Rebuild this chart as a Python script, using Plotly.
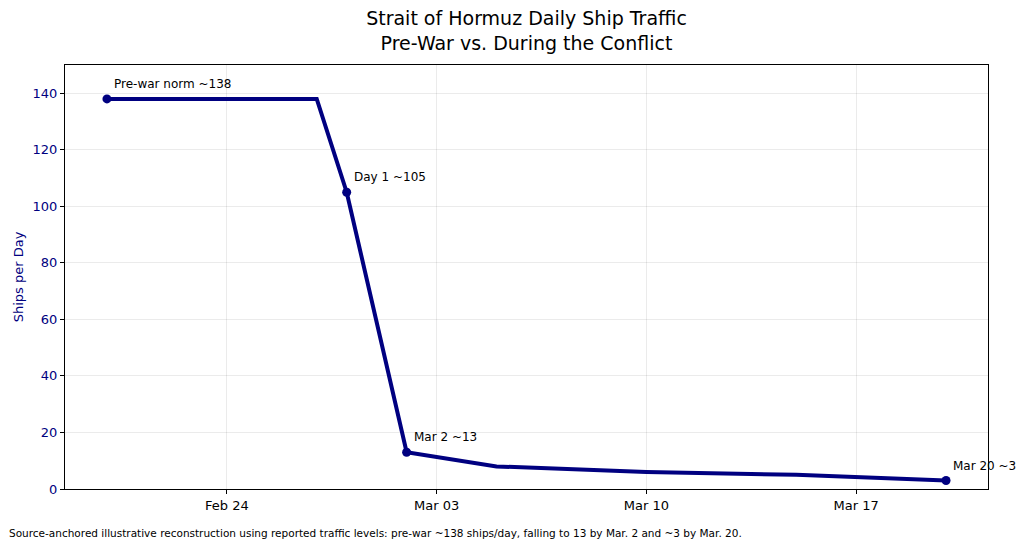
import plotly.graph_objects as go

dates = ["2026-02-20", "2026-02-27", "2026-02-28", "2026-03-02", "2026-03-05",
         "2026-03-10", "2026-03-15", "2026-03-20"]
ships = [138, 138, 105, 13, 8, 6, 5, 3]
marked_idx = [0, 2, 3, 7]
marked_labels = ["Pre-war norm ~138", "Day 1 ~105", "Mar 2 ~13", "Mar 20 ~3"]
tick_dates = ["2026-02-24", "2026-03-03", "2026-03-10", "2026-03-17"]
tick_text = ["Feb 24", "Mar 03", "Mar 10", "Mar 17"]

NAVY = "#000080"
FONT = "DejaVu Sans"

fig = go.Figure()
fig.add_trace(go.Scatter(x=dates, y=ships, mode="lines",
                         line=dict(color=NAVY, width=4), showlegend=False,
                         hoverinfo="skip"))
fig.add_trace(go.Scatter(x=[dates[i] for i in marked_idx],
                         y=[ships[i] for i in marked_idx], mode="markers",
                         marker=dict(color=NAVY, size=9), showlegend=False))

for i, lab in zip(marked_idx, marked_labels):
    fig.add_annotation(x=dates[i], y=ships[i], text=lab, showarrow=False,
                       xanchor="left", yanchor="bottom", xshift=5, yshift=6,
                       font=dict(family=FONT, size=12, color="black"))

fig.add_annotation(xref="paper", yref="paper", x=-58/923, y=-44/424,
                   xanchor="left", yanchor="middle", showarrow=False,
                   text="Source-anchored illustrative reconstruction using reported traffic levels: "
                        "pre-war ~138 ships/day, falling to 13 by Mar. 2 and ~3 by Mar. 20.",
                   font=dict(family=FONT, size=10.5, color="black"))

fig.update_layout(
    width=1024, height=548,
    margin=dict(l=65, r=36, t=65, b=59),
    paper_bgcolor="white", plot_bgcolor="white",
    font=dict(family=FONT, color="black"),
    title=dict(text="Strait of Hormuz Daily Ship Traffic<br>Pre-War vs. During the Conflict",
               x=0.5, xanchor="center", xref="paper", yref="container",
               y=1 - 25 / 548, yanchor="middle",
               font=dict(family=FONT, size=19, color="black")),
    xaxis=dict(type="date", range=["2026-02-18 14:24", "2026-03-21 09:36"],
               tickvals=tick_dates, ticktext=tick_text,
               showgrid=True, gridcolor="rgba(0,0,0,0.08)", gridwidth=1,
               showline=True, linecolor="black", linewidth=1, mirror=True,
               ticks="outside", ticklen=4, tickcolor="black",
               tickfont=dict(family=FONT, size=13, color="black"), zeroline=False),
    yaxis=dict(range=[0, 150], tickvals=[0, 20, 40, 60, 80, 100, 120, 140],
               showgrid=True, gridcolor="rgba(0,0,0,0.08)", gridwidth=1,
               showline=True, linecolor="black", linewidth=1, mirror=True,
               ticks="outside", ticklen=4, tickcolor="black",
               tickfont=dict(family=FONT, size=13, color=NAVY), zeroline=False,
               title=dict(text="Ships per Day", font=dict(family=FONT, size=13, color=NAVY),
                          standoff=6)),
)

fig.write_html("out.html", config={"displayModeBar": False},
               post_script="document.body.style.margin='0';")
